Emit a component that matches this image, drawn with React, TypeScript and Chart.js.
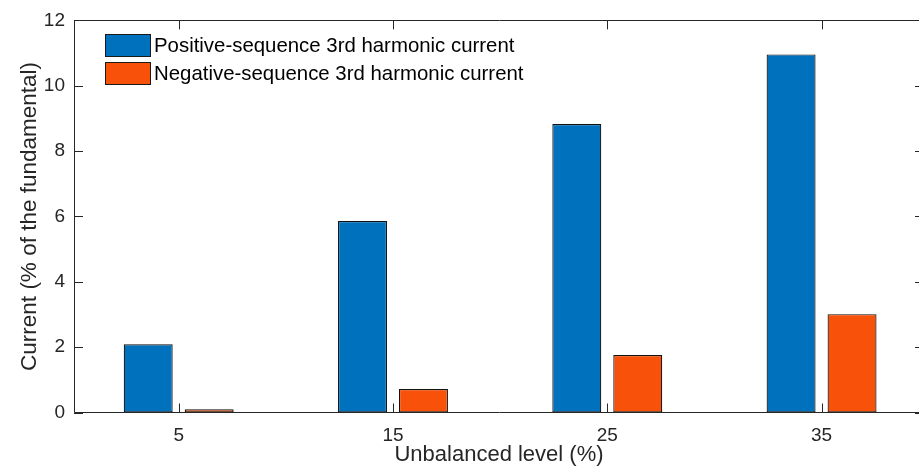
import React, { useEffect, useRef } from "react";
import { Chart, registerables } from "chart.js";

Chart.register(...registerables);

const levels = [5, 15, 25, 35];
const positiveSeq = [2.09, 5.86, 8.83, 10.96];
const negativeSeq = [0.1, 0.72, 1.76, 3.01];
const seriesLabels = [
  "Positive-sequence 3rd harmonic current",
  "Negative-sequence 3rd harmonic current",
];
const yTicks = [0, 2, 4, 6, 8, 10, 12];
const xTitle = "Unbalanced level (%)";
const yTitle = "Current (% of the fundamental)";

const BLUE = "#0072BD";
const ORANGE = "#F8520A";
const AXIS = "#262626";
const FONT = "'Liberation Sans', Arial, sans-serif";

const boxPlugin = {
  id: "matlabBox",
  afterDatasetsDraw(chart: any) {
    const { ctx, chartArea } = chart;
    const { left, right, top, bottom } = chartArea;
    const xs = chart.scales.x;
    const ys = chart.scales.y;
    const tl = 9;
    ctx.save();
    ctx.strokeStyle = AXIS;
    ctx.lineWidth = 1;
    ctx.beginPath();
    ctx.rect(Math.round(left) + 0.5, Math.round(top) + 0.5, Math.round(right - left), Math.round(bottom - top));
    ctx.stroke();
    ctx.beginPath();
    for (const v of levels) {
      const px = Math.round(xs.getPixelForValue(v)) + 0.5;
      ctx.moveTo(px, bottom);
      ctx.lineTo(px, bottom - tl);
      ctx.moveTo(px, top);
      ctx.lineTo(px, top + tl);
    }
    for (const v of yTicks) {
      const py = Math.round(ys.getPixelForValue(v)) + 0.5;
      ctx.moveTo(left, py);
      ctx.lineTo(left + tl, py);
      ctx.moveTo(right, py);
      ctx.lineTo(right - tl, py);
    }
    ctx.stroke();

    // legend
    const bx = 105;
    const bw = 45;
    const bh = 22;
    const rows = [34, 62];
    ctx.font = `20.4px ${FONT}`;
    ctx.textBaseline = "middle";
    ctx.textAlign = "left";
    chart.data.datasets.forEach((ds: any, i: number) => {
      const y = rows[i];
      ctx.fillStyle = ds.backgroundColor;
      ctx.fillRect(bx, y, bw, bh);
      ctx.strokeStyle = "#1a1a1a";
      ctx.strokeRect(bx + 0.5, y + 0.5, bw, bh);
      ctx.fillStyle = "#000";
      ctx.fillText(ds.label, bx + bw + 4, y + bh / 2 + 1);
    });
    ctx.restore();
  },
};

export default function App() {
  const ref = useRef<HTMLCanvasElement | null>(null);
  useEffect(() => {
    if (!ref.current) return;
    const common = {
      borderColor: "#111111",
      borderWidth: 1.2,
      borderSkipped: false,
      categoryPercentage: 0.569,
      barPercentage: 0.803,
    };
    const chart = new Chart(ref.current, {
      type: "bar",
      data: {
        datasets: [
          {
            label: seriesLabels[0],
            data: levels.map((x, i) => ({ x, y: positiveSeq[i] })),
            backgroundColor: BLUE,
            ...common,
          },
          {
            label: seriesLabels[1],
            data: levels.map((x, i) => ({ x, y: negativeSeq[i] })),
            backgroundColor: ORANGE,
            ...common,
          },
        ],
      },
      options: {
        responsive: false,
        animation: false,
        devicePixelRatio: 1,
        layout: { padding: { top: 20.3, right: 6, left: 0, bottom: 0 } },
        plugins: {
          legend: { display: false },
          tooltip: { enabled: false },
        },
        scales: {
          x: {
            type: "linear",
            offset: false,
            min: 0.114,
            max: 39.78,
            grid: { display: false, drawTicks: false, offset: false },
            border: { display: false },
            afterBuildTicks: (s: any) => {
              s.ticks = levels.map((v) => ({ value: v }));
            },
            afterFit: (s: any) => {
              s.height = 55.5;
            },
            ticks: {
              autoSkip: false,
              maxRotation: 0,
              padding: 12,
              color: AXIS,
              font: { family: FONT, size: 19 },
              callback: (v: any) => String(v),
            },
            title: {
              display: true,
              text: xTitle,
              color: AXIS,
              font: { family: FONT, size: 22 },
              padding: { top: 0, bottom: 0 },
            },
          },
          y: {
            min: 0,
            max: 12,
            grid: { display: false, drawTicks: false },
            border: { display: false },
            afterBuildTicks: (s: any) => {
              s.ticks = yTicks.map((v) => ({ value: v }));
            },
            afterFit: (s: any) => {
              s.width = 74;
            },
            ticks: {
              padding: 9,
              color: AXIS,
              font: { family: FONT, size: 19 },
            },
            title: {
              display: true,
              text: yTitle,
              color: AXIS,
              font: { family: FONT, size: 22.5 },
              padding: { top: 16, bottom: 0 },
            },
          },
        },
      },
      plugins: [boxPlugin],
    } as any);
    return () => chart.destroy();
  }, []);
  return (
    <div
      style={{
        position: "fixed",
        left: 0,
        top: 0,
        width: 919,
        height: 468,
        overflow: "hidden",
        background: "#fff",
      }}
    >
      <canvas ref={ref} width={930} height={468} style={{ display: "block" }} />
    </div>
  );
}
